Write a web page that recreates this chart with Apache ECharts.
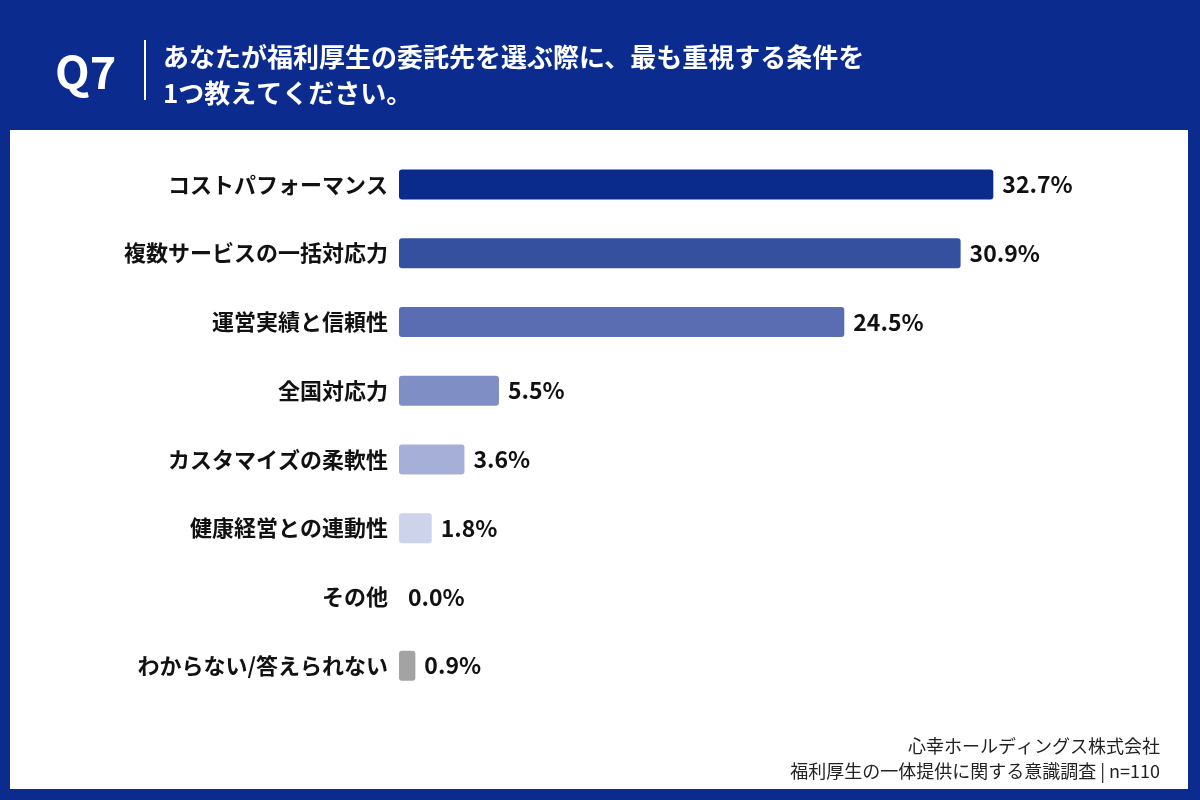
<!DOCTYPE html>
<html><head><meta charset="utf-8">
<script src="https://cdn.jsdelivr.net/npm/echarts@6/dist/echarts.min.js"></script>
<style>html,body{margin:0;padding:0;background:#0b2c8e;}#c{width:1200px;height:800px;}</style>
</head><body><div id="c"></div>
<script>
const categories = ['コストパフォーマンス','複数サービスの一括対応力','運営実績と信頼性','全国対応力','カスタマイズの柔軟性','健康経営との連動性','その他','わからない/答えられない'];
const values = [32.7, 30.9, 24.5, 5.5, 3.6, 1.8, 0.0, 0.9];
const barColors = ['#0a2a8c','#34509f','#5a6db2','#7f8fc5','#a5afd7','#cdd3ea','#cdd3ea','#a3a3a3'];
const titleQ = 'Q7';
const titleLines = ['あなたが福利厚生の委託先を選ぶ際に、最も重視する条件を','1つ教えてください。'];
const footerLines = ['心幸ホールディングス株式会社','福利厚生の一体提供に関する意識調査 | n=110'];

const FONT = '"Noto Sans CJK JP", "Noto Sans", sans-serif';
const chart = echarts.init(document.getElementById('c'));
chart.setOption({
  backgroundColor: '#0b2c8e',
  animation: false,
  graphic: [
    {type:'rect', shape:{x:10,y:130,width:1178,height:659}, style:{fill:'#ffffff'}, z:-10},
    {type:'text', x:55, y:72, style:{text:titleQ, fill:'#fff', font:'bold 45px '+FONT, verticalAlign:'middle'}},
    {type:'rect', shape:{x:144,y:40,width:2,height:60}, style:{fill:'#ffffff'}},
    {type:'text', x:163, y:75, style:{text:titleLines.join('\n'), fill:'#fff', font:'bold 26px '+FONT, lineHeight:36, verticalAlign:'middle'}},
    {type:'text', x:1160, y:759, style:{text:footerLines.join('\n'), fill:'#222', font:'18px '+FONT, lineHeight:25, align:'right', verticalAlign:'middle'}}
  ],
  grid: {left:399, top:150, width:727, height:550, containLabel:false},
  xAxis: {type:'value', min:0, max:40, show:false},
  yAxis: {
    type:'category', data:categories, inverse:true,
    axisLine:{show:false}, axisTick:{show:false},
    axisLabel:{color:'#111', fontSize:22, fontWeight:'bold', fontFamily:FONT, margin:11}
  },
  series: [{
    type:'bar', barWidth:30,
    data: values.map((v,i)=>({value:v, itemStyle:{color:barColors[i]}})),
    itemStyle:{borderRadius:3},
    label:{show:true, position:'right', distance:9, formatter:p=>p.value.toFixed(1)+'%', color:'#111', fontSize:23, fontWeight:'bold', fontFamily:FONT}
  }]
});
</script></body></html>
